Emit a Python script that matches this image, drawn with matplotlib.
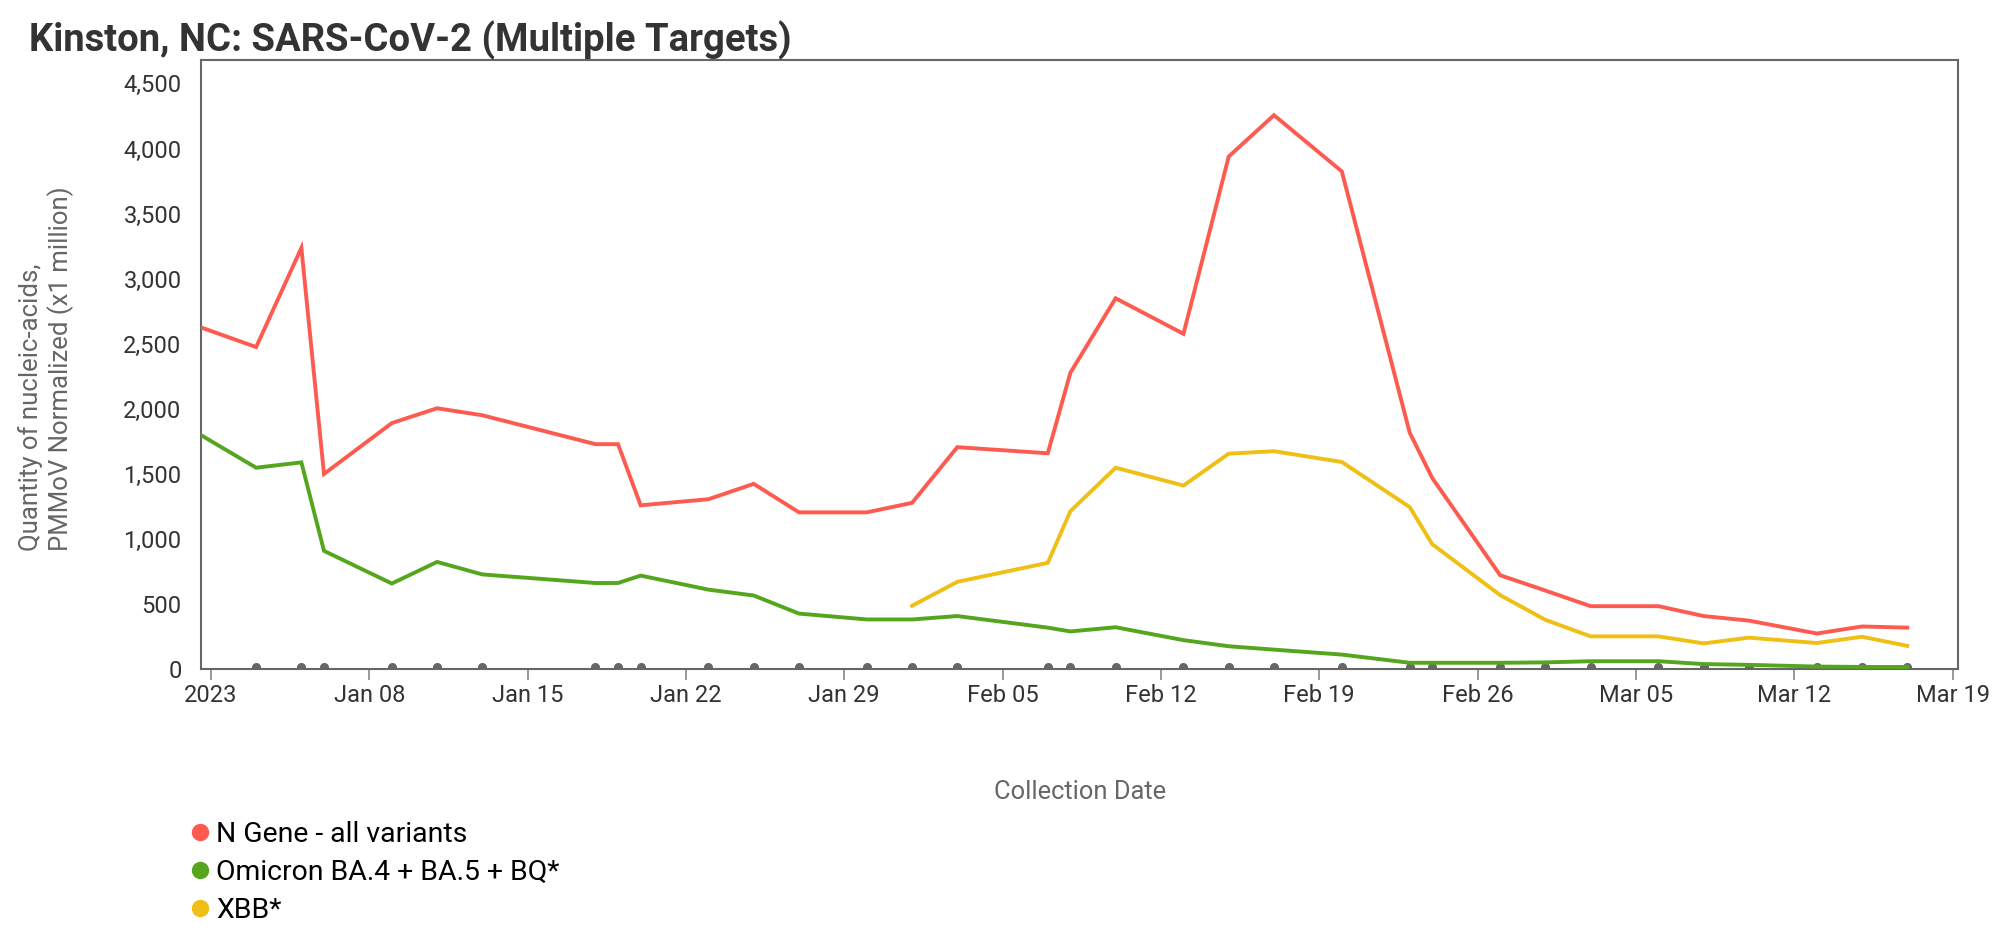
import numpy as np
import pandas as pd
import matplotlib
matplotlib.use("Agg")
import matplotlib.pyplot as plt
import matplotlib.dates as mdates
import matplotlib.transforms as mtransforms
from matplotlib.lines import Line2D
from matplotlib.ticker import FuncFormatter

plt.rcParams['font.family'] = ['Roboto', 'DejaVu Sans']

# sample dates (collection dates)
dates = pd.to_datetime([
    "2022-12-31", "2023-01-03", "2023-01-05", "2023-01-06", "2023-01-09",
    "2023-01-11", "2023-01-13", "2023-01-18", "2023-01-19", "2023-01-20",
    "2023-01-23", "2023-01-25", "2023-01-27", "2023-01-30", "2023-02-01",
    "2023-02-03", "2023-02-07", "2023-02-08", "2023-02-10", "2023-02-13",
    "2023-02-15", "2023-02-17", "2023-02-20", "2023-02-23", "2023-02-24",
    "2023-02-27", "2023-03-01", "2023-03-03", "2023-03-06", "2023-03-08",
    "2023-03-10", "2023-03-13", "2023-03-15", "2023-03-17",
])

# values, PMMoV normalized (x1 million)
n_gene = [2660, 2474, 3236, 1499, 1890, 2004, 1950, 1728, 1728, 1258,
          1305, 1423, 1204, 1204, 1277, 1705, 1658, 2277, 2849, 2576,
          3938, 4256, 3824, 1817, 1467, 721, 603, 483, 483, 407,
          372, 273, 327, 318]
omicron = [1855, 1547, 1588, 908, 657, 823, 727, 661, 661, 718,
           610, 565, 426, 381, 381, 407, 318, 289, 321, 222,
           175, 149, 111, 48, 48, 48, 51, 60, 60, 38,
           32, 19, 16, 16]
xbb = [np.nan] * 14 + [486, 670, 816, 1213, 1547, 1410, 1655, 1674, 1591, 1245,
                       959, 568, 378, 251, 251, 197, 241, 200, 248, 178]

series_names = ["N Gene - all variants", "Omicron BA.4 + BA.5 + BQ*", "XBB*"]
series_colors = ["#fe5b50", "#56a51e", "#f0bf15"]

fig = plt.figure(figsize=(20, 9.51), dpi=100)
ax = fig.add_axes([0.1005, 0.2965, 0.8787, 0.6404])

# sample markers along the baseline (nudged up a little, like the original)
dot_trans = mtransforms.offset_copy(ax.transData, fig=fig, x=0, y=2.5, units='dots')
ax.plot(dates, np.zeros(len(dates)), 'o', color="#666666", markersize=5.5,
        zorder=2, transform=dot_trans)

for vals, name, col in zip([n_gene, omicron, xbb], series_names, series_colors):
    ax.plot(dates, vals, color=col, lw=2.8, label=name, zorder=3,
            solid_joinstyle='miter')

ax.set_xlim(pd.Timestamp("2022-12-31 13:30"), pd.Timestamp("2023-03-19 06:15"))
ax.set_ylim(0, 4680)

# axes styling
for s in ax.spines.values():
    s.set_color("#666666")
    s.set_linewidth(1.5)

ax.set_yticks(np.arange(0, 4501, 500))
ax.yaxis.set_major_formatter(FuncFormatter(lambda v, p: f"{int(v):,}"))
ax.tick_params(axis='y', length=0, pad=14, labelsize=17, labelcolor="#333333")

ax.xaxis.set_major_locator(mdates.WeekdayLocator(byweekday=mdates.SU))
def date_fmt(x, pos):
    d = mdates.num2date(x)
    if d.month == 1 and d.day == 1:
        return d.strftime("%Y")
    return d.strftime("%b %d")
ax.xaxis.set_major_formatter(FuncFormatter(date_fmt))
ax.tick_params(axis='x', length=8, width=1.2, color="#888888", pad=3,
               labelsize=17, labelcolor="#333333")

# titles and labels
fig.text(0.0145, 0.9464, "Kinston, NC: SARS-CoV-2 (Multiple Targets)",
         fontsize=27.5, fontweight='bold', color="#333333", va='baseline', ha='left')
fig.text(0.0232, 0.612, "Quantity of nucleic-acids,\nPMMoV Normalized (x1 million)",
         rotation=90, ha='center', va='center', fontsize=18.5, color="#666666",
         multialignment='left', linespacing=1.2)
fig.text(0.54, 0.167, "Collection Date", ha='center', va='center',
         fontsize=18.4, color="#666666")

# legend with round markers
handles = [Line2D([], [], marker='o', linestyle='', color=c, markersize=11.5)
           for c in series_colors]
fig.legend(handles, series_names, loc='upper left', bbox_to_anchor=(0.0958, 0.1372),
           frameon=False, fontsize=20.4, handlelength=0.6, handletextpad=0.27,
           labelspacing=0.39, borderaxespad=0, borderpad=0)

fig.savefig("out.png", dpi=100)
